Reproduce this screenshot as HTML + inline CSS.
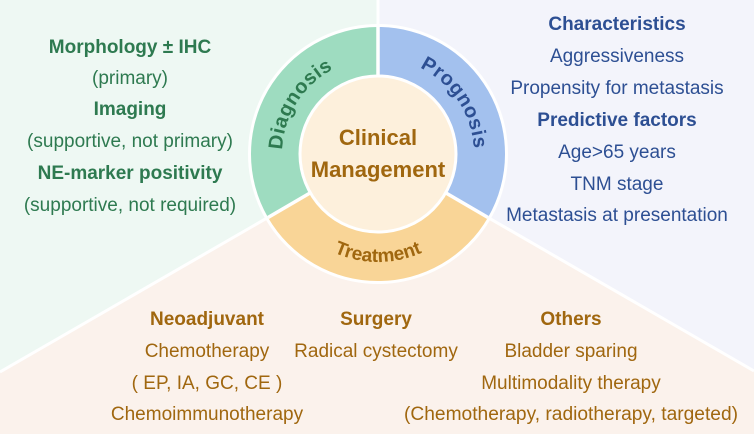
<!DOCTYPE html>
<html><head><meta charset="utf-8"><style>
html,body{margin:0;padding:0;background:#fff}
svg{display:block}
text{font-family:"Liberation Sans",sans-serif}
</style></head><body>
<svg width="754" height="434" viewBox="0 0 754 434" xmlns="http://www.w3.org/2000/svg">
<polygon points="0,0 378,0 378,154 0,372" fill="#eef8f3"/>
<polygon points="378,0 754,0 754,371 378,154" fill="#f3f4fb"/>
<polygon points="0,372 378,154 754,371 754,434 0,434" fill="#fbf2ec"/>
<line x1="378" y1="0" x2="378" y2="154" stroke="#fff" stroke-width="3"/>
<line x1="0" y1="372" x2="378" y2="154" stroke="#fff" stroke-width="3"/>
<line x1="754" y1="371" x2="378" y2="154" stroke="#fff" stroke-width="3"/>
<circle cx="378" cy="154" r="130" fill="#fff"/>
<path d="M268,217.5 A127,127 0 0 1 378,27 L378,75 A79,79 0 0 0 309.6,193.5 Z" fill="#9edcc0"/>
<path d="M378,27 A127,127 0 0 1 488,217.5 L446.4,193.5 A79,79 0 0 0 378,75 Z" fill="#a3c1ee"/>
<path d="M488,217.5 A127,127 0 0 1 268,217.5 L309.6,193.5 A79,79 0 0 0 446.4,193.5 Z" fill="#f9d597"/>
<g stroke="#fff" stroke-width="3.5">
<line x1="378" y1="27" x2="378" y2="76"/>
<line x1="268" y1="217.5" x2="310" y2="193"/>
<line x1="488" y1="217.5" x2="446" y2="193"/>
</g>
<circle cx="378" cy="154" r="78" fill="#fdf0dc" stroke="#fff" stroke-width="3"/>
<defs>
<path id="pd" d="M294.9,202 A96,96 0 0 1 378,58"/>
<path id="pp" d="M378,58 A96,96 0 0 1 461.1,202"/>
<path id="pt" d="M284.5,208 A108,108 0 0 0 471.5,208"/>
</defs>
<text font-size="20" font-weight="bold" fill="#2e7a50" letter-spacing="0.5"><textPath href="#pd" startOffset="52%" text-anchor="middle">Diagnosis</textPath></text>
<text font-size="20" font-weight="bold" fill="#2d4f93" letter-spacing="0.5"><textPath href="#pp" startOffset="47%" text-anchor="middle">Prognosis</textPath></text>
<text font-size="19" font-weight="bold" fill="#a0670f"><textPath href="#pt" startOffset="50%" text-anchor="middle">Treatment</textPath></text>
<text x="378" y="145" font-size="22" font-weight="bold" fill="#a0670f" text-anchor="middle">Clinical</text>
<text x="378" y="177" font-size="22" font-weight="bold" fill="#a0670f" text-anchor="middle">Management</text>

<g font-size="19" fill="#2e7a50" text-anchor="middle">
<text x="130" y="53" font-weight="bold">Morphology ± IHC</text>
<text x="130" y="84">(primary)</text>
<text x="130" y="115" font-weight="bold">Imaging</text>
<text x="130" y="147">(supportive, not primary)</text>
<text x="130" y="179" font-weight="bold">NE-marker positivity</text>
<text x="130" y="211">(supportive, not required)</text>
</g>
<g font-size="19" fill="#2d4f93" text-anchor="middle">
<text x="617" y="30" font-weight="bold">Characteristics</text>
<text x="617" y="62">Aggressiveness</text>
<text x="617" y="94">Propensity for metastasis</text>
<text x="617" y="126" font-weight="bold">Predictive factors</text>
<text x="617" y="158">Age&gt;65 years</text>
<text x="617" y="190">TNM stage</text>
<text x="617" y="221">Metastasis at presentation</text>
</g>
<g font-size="19" fill="#a0670f" text-anchor="middle">
<text x="207" y="325" font-weight="bold">Neoadjuvant</text>
<text x="207" y="357">Chemotherapy</text>
<text x="207" y="389">( EP, IA, GC, CE )</text>
<text x="207" y="420">Chemoimmunotherapy</text>
<text x="376" y="325" font-weight="bold">Surgery</text>
<text x="376" y="357">Radical cystectomy</text>
<text x="571" y="325" font-weight="bold">Others</text>
<text x="571" y="357">Bladder sparing</text>
<text x="571" y="389">Multimodality therapy</text>
<text x="571" y="420" textLength="334" lengthAdjust="spacingAndGlyphs">(Chemotherapy, radiotherapy, targeted)</text>
</g>
</svg>
</body></html>
